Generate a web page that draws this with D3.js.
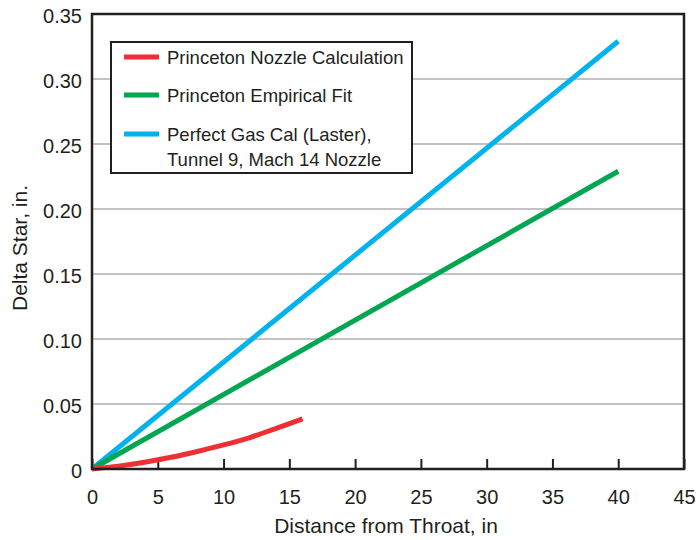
<!DOCTYPE html>
<html>
<head>
<meta charset="utf-8">
<script src="https://cdn.jsdelivr.net/npm/d3@7"></script>
<style>
  body { margin: 0; background: #fff; }
  text { font-family: "Liberation Sans", Arial, sans-serif; fill: #231f20; }
</style>
</head>
<body>
<script>
// data
var nozzleX = [0, 2, 4, 6, 8, 10, 12, 14, 16]
var nozzleY = [0, 0.0022, 0.0052, 0.009, 0.0135, 0.0185, 0.0242, 0.0313, 0.0385]
var empiricalX = [0, 40]
var empiricalY = [0, 0.229]
var perfectX = [0, 40]
var perfectY = [0, 0.329]
var xTicks = [0, 5, 10, 15, 20, 25, 30, 35, 40, 45]
var yTicks = [0, 0.05, 0.10, 0.15, 0.20, 0.25, 0.30, 0.35]
var legendLabels = [["Princeton Nozzle Calculation"], ["Princeton Empirical Fit"],
                    ["Perfect Gas Cal (Laster),", "Tunnel 9, Mach 14 Nozzle"]]

var width = 697, height = 540
var plotL = 92, plotR = 684, plotT = 14, plotB = 469

var x = d3.scaleLinear().domain([0, 45]).range([plotL, plotR])
var y = d3.scaleLinear().domain([0, 0.35]).range([plotB, plotT])

var svg = d3.select('body').append('svg').attr('width', width).attr('height', height)

// gridlines
svg.append('g').selectAll('line').data(yTicks.slice(1, -1)).enter()
    .append('line')
    .attr('x1', plotL).attr('x2', plotR)
    .attr('y1', d => y(d)).attr('y2', d => y(d))
    .attr('stroke', '#c3c3c5').attr('stroke-width', 2)

// x axis with inward ticks
var xAxis = d3.axisBottom(x).tickValues(xTicks).tickSize(-10).tickPadding(21)
    .tickFormat(d3.format('d'))
var gx = svg.append('g').attr('transform', 'translate(0,' + plotB + ')').call(xAxis)
gx.select('.domain').remove()
gx.selectAll('line').attr('stroke', '#231f20').attr('stroke-width', 2)
gx.selectAll('text').attr('font-size', 20).style('font-family', '"Liberation Sans", Arial, sans-serif')
    .attr('fill', '#231f20')

// y axis, labels only
var yAxis = d3.axisLeft(y).tickValues(yTicks).tickSize(0).tickPadding(10)
    .tickFormat(d => d === 0 ? '0' : d3.format('.2f')(d))
var gy = svg.append('g').attr('transform', 'translate(' + plotL + ',0)').call(yAxis)
gy.select('.domain').remove()
gy.selectAll('text').attr('font-size', 20).style('font-family', '"Liberation Sans", Arial, sans-serif')
    .attr('fill', '#231f20').attr('dy', '0.4em')

// lines
var line = d3.line().x(d => x(d[0])).y(d => y(d[1])).curve(d3.curveMonotoneX)
var series = [
  { xs: perfectX, ys: perfectY, color: '#00b3ee' },
  { xs: empiricalX, ys: empiricalY, color: '#00a650' },
  { xs: nozzleX, ys: nozzleY, color: '#ee2f34' }
]
series.forEach(s => {
  svg.append('path').datum(d3.zip(s.xs, s.ys))
    .attr('d', line).attr('fill', 'none')
    .attr('stroke', s.color).attr('stroke-width', 5)
})

// frame
svg.append('rect').attr('x', plotL).attr('y', plotT)
    .attr('width', plotR - plotL).attr('height', plotB - plotT)
    .attr('fill', 'none').attr('stroke', '#231f20').attr('stroke-width', 2.5)

// legend
var legend = svg.append('g')
legend.append('rect').attr('x', 111).attr('y', 42).attr('width', 301).attr('height', 131)
    .attr('fill', '#fff').attr('stroke', '#231f20').attr('stroke-width', 2)
var legendColors = ['#ee2f34', '#00a650', '#00b3ee']
var legendY = [57, 95, 134]
legendLabels.forEach((lbl, i) => {
  legend.append('line').attr('x1', 124).attr('x2', 159)
      .attr('y1', legendY[i]).attr('y2', legendY[i])
      .attr('stroke', legendColors[i]).attr('stroke-width', 5)
  lbl.forEach((t, j) => {
    legend.append('text').attr('x', 167).attr('y', legendY[i] + 7 + j * 25)
        .attr('font-size', 18.5).text(t)
  })
})

// axis titles
svg.append('text').attr('x', (plotL + plotR) / 2 - 2).attr('y', 533)
    .attr('text-anchor', 'middle').attr('font-size', 21).text('Distance from Throat, in')
svg.append('text').attr('transform', 'translate(27,' + 248 + ') rotate(-90)')
    .attr('text-anchor', 'middle').attr('font-size', 21).text('Delta Star, in.')
</script>
</body>
</html>
